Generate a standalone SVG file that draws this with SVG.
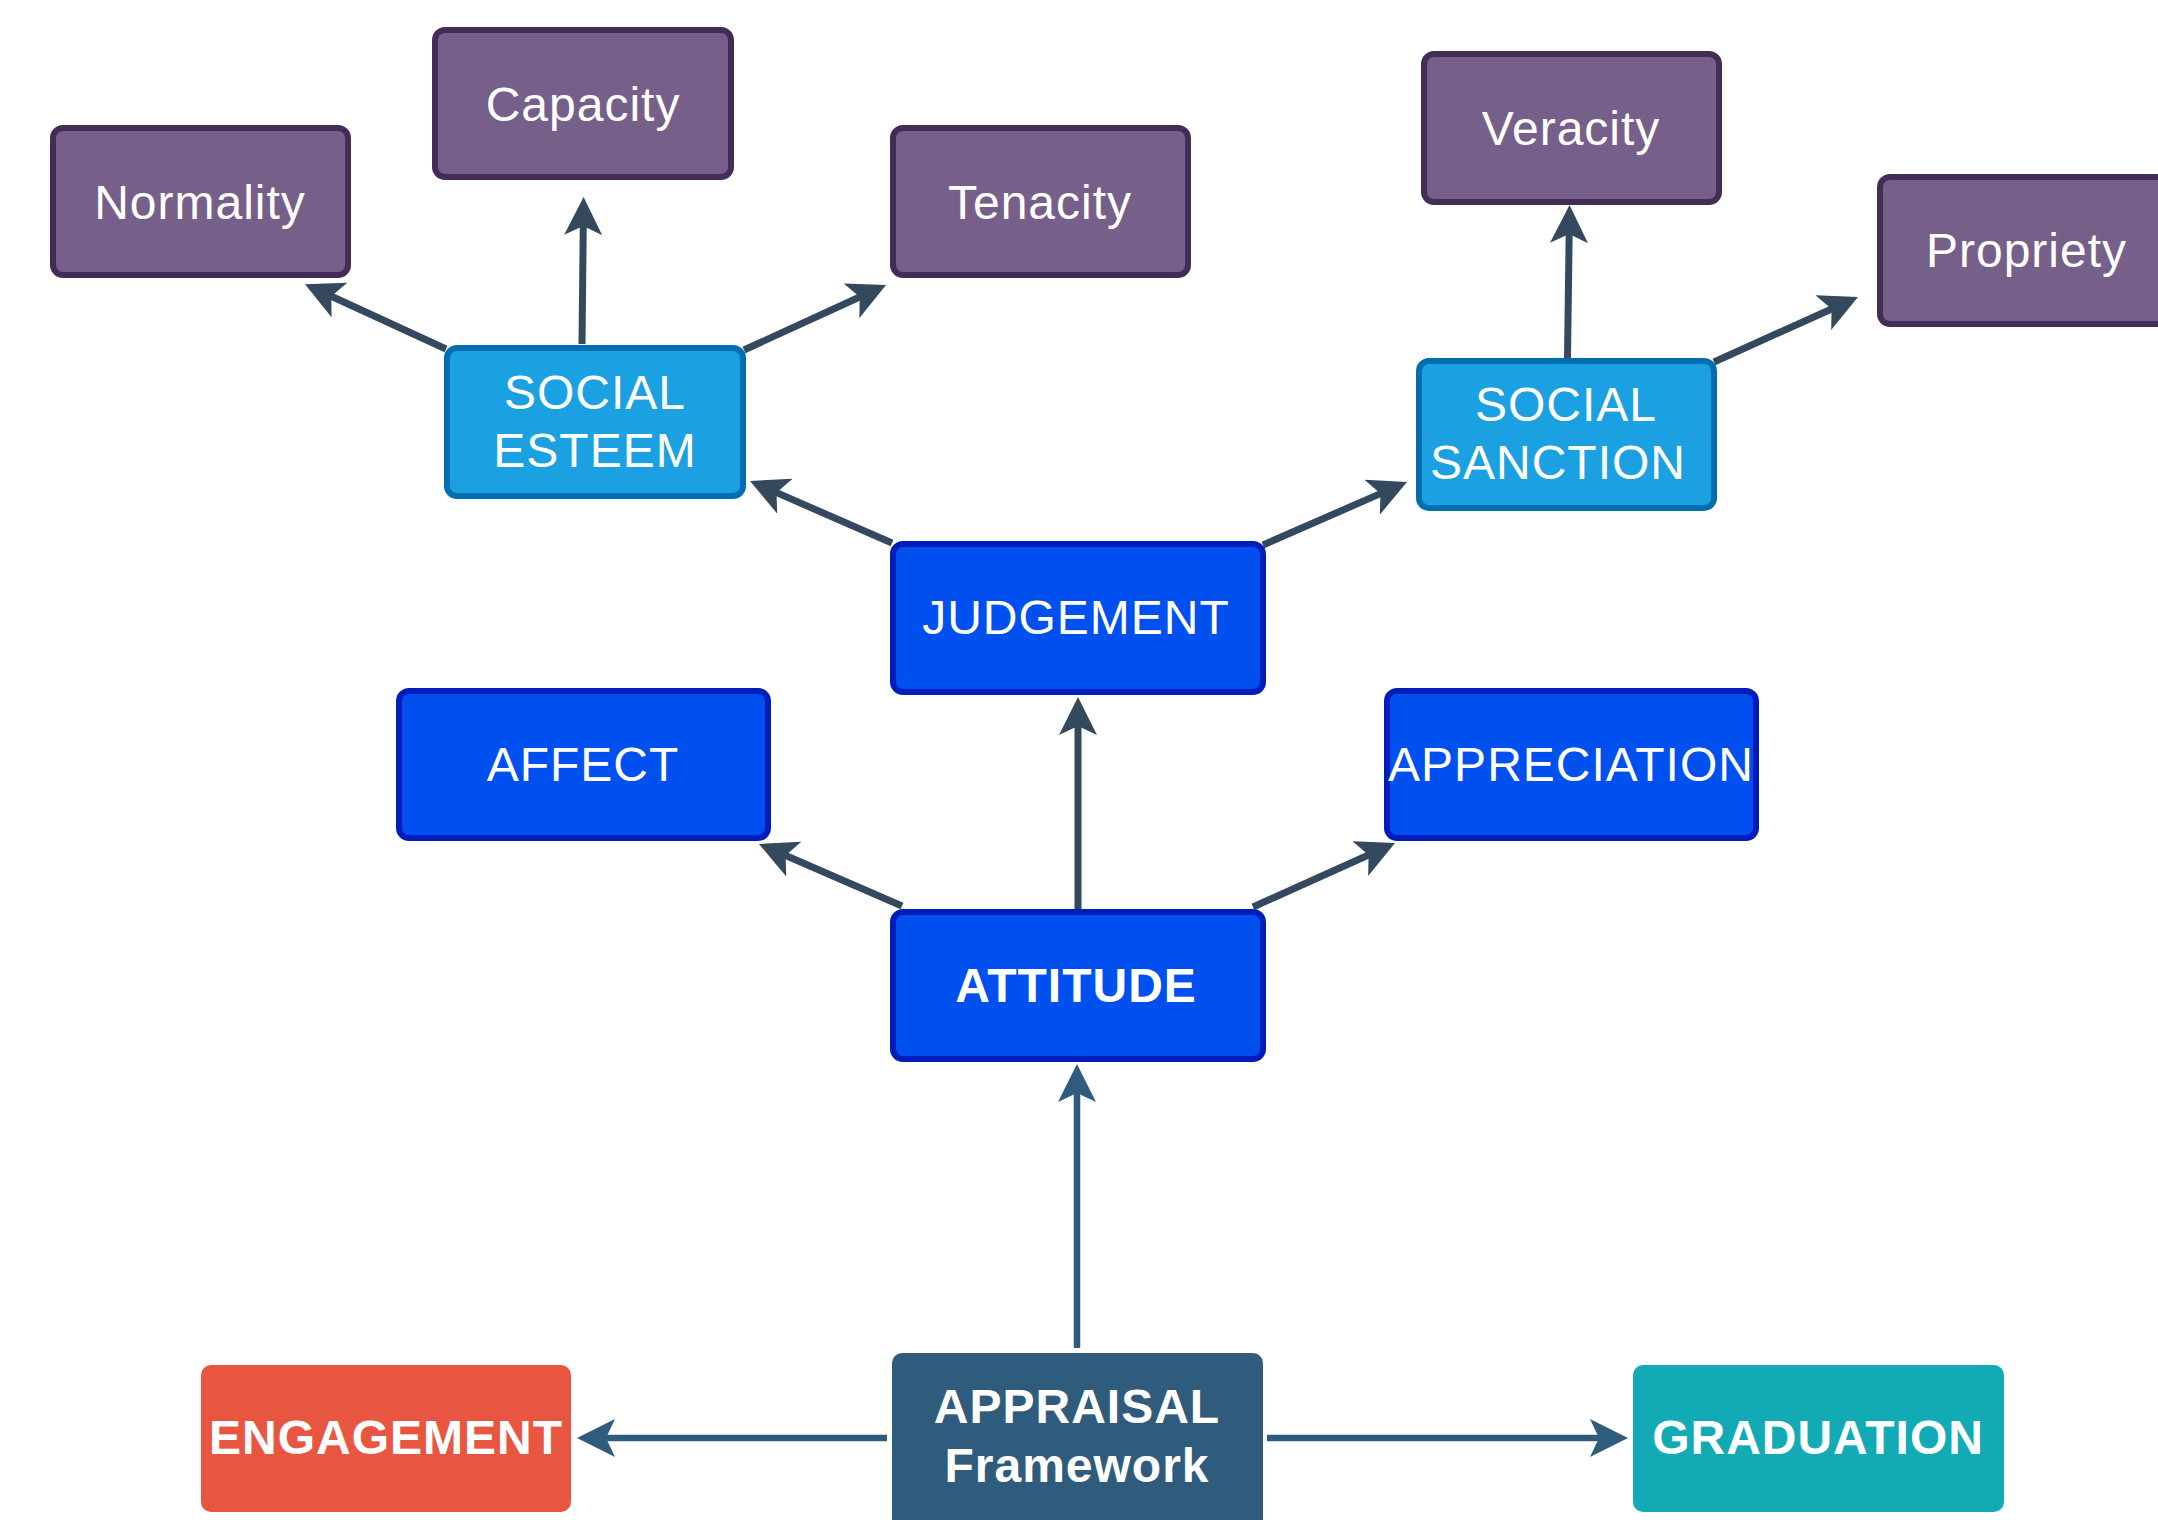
<svg xmlns="http://www.w3.org/2000/svg" width="2158" height="1520" viewBox="0 0 2158 1520">
  <style>
    .lbl { font-family: "Liberation Sans", Arial, Helvetica, sans-serif; font-size: 48px; fill: #ffffff; text-anchor: middle; letter-spacing: 1px; }
    .bold { font-weight: bold; }
    .purple { fill: #76608A; stroke: #432D57; stroke-width: 6; }
    .lblue { fill: #1BA1E2; stroke: #006EAF; stroke-width: 6; }
    .blue { fill: #0050EF; stroke: #001DBC; stroke-width: 6; }
    .eng { fill: #E85642; }
    .grad { fill: #12AAB5; }
    .appr { fill: #2F5B7C; }
    .c-dark { fill: none; stroke: #34495E; stroke-width: 7; marker-end: url(#headDark); }
    .c-blue { fill: none; stroke: #2F5B7C; stroke-width: 6.5; marker-end: url(#headBlue); }
  </style>
  <defs>
    <marker id="headDark" viewBox="0 0 38 38" refX="12" refY="19" markerWidth="38" markerHeight="38" markerUnits="userSpaceOnUse" orient="auto">
      <path d="M0,0 L38,19 L0,38 L9,19 Z" fill="#34495E"/>
    </marker>
    <marker id="headBlue" viewBox="0 0 38 38" refX="12" refY="19" markerWidth="38" markerHeight="38" markerUnits="userSpaceOnUse" orient="auto">
      <path d="M0,0 L38,19 L0,38 L9,19 Z" fill="#2F5B7C"/>
    </marker>
  </defs>
  <rect width="2158" height="1520" fill="#ffffff"/>

  <g id="connectors">
    <line class="c-blue" x1="1077" y1="1348" x2="1077" y2="1090"/>
    <line class="c-blue" x1="887" y1="1438" x2="603" y2="1438"/>
    <line class="c-blue" x1="1267" y1="1438" x2="1602" y2="1438"/>
    <line class="c-dark" x1="1078" y1="909" x2="1078" y2="723"/>
    <line class="c-dark" x1="902" y1="906" x2="782.8" y2="854.3"/>
    <line class="c-dark" x1="1253" y1="907" x2="1371.3" y2="853.7"/>
    <line class="c-dark" x1="892" y1="543" x2="773.8" y2="491.4"/>
    <line class="c-dark" x1="1263" y1="545" x2="1383.2" y2="492.4"/>
    <line class="c-dark" x1="446" y1="349" x2="328.6" y2="295"/>
    <line class="c-dark" x1="582" y1="344" x2="583.3" y2="223"/>
    <line class="c-dark" x1="744" y1="350" x2="862.4" y2="295.8"/>
    <line class="c-dark" x1="1567.5" y1="358" x2="1569.2" y2="231"/>
    <line class="c-dark" x1="1714" y1="362" x2="1834.3" y2="307.7"/>
  </g>

  <g id="normality">
    <rect class="purple" x="53" y="128" width="295" height="147" rx="10"/>
    <text class="lbl" x="200" y="219">Normality</text>
  </g>
  <g id="capacity">
    <rect class="purple" x="435" y="30" width="296" height="147" rx="10"/>
    <text class="lbl" x="583" y="121">Capacity</text>
  </g>
  <g id="tenacity">
    <rect class="purple" x="893" y="128" width="295" height="147" rx="10"/>
    <text class="lbl" x="1040" y="219">Tenacity</text>
  </g>
  <g id="veracity">
    <rect class="purple" x="1424" y="54" width="295" height="148" rx="10"/>
    <text class="lbl" x="1571" y="145">Veracity</text>
  </g>
  <g id="propriety">
    <rect class="purple" x="1880" y="177" width="295" height="147" rx="10"/>
    <text class="lbl" x="2026.5" y="267">Propriety</text>
  </g>
  <g id="social-esteem">
    <rect class="lblue" x="447" y="348" width="296" height="148" rx="10"/>
    <text class="lbl" x="595" y="409">SOCIAL</text>
    <text class="lbl" x="595" y="467">ESTEEM</text>
  </g>
  <g id="social-sanction">
    <rect class="lblue" x="1419" y="361" width="295" height="147" rx="10"/>
    <text class="lbl" x="1566" y="421">SOCIAL</text>
    <text class="lbl" x="1558" y="479">SANCTION</text>
  </g>
  <g id="judgement">
    <rect class="blue" x="893" y="544" width="370" height="148" rx="10"/>
    <text class="lbl" x="1076" y="634">JUDGEMENT</text>
  </g>
  <g id="affect">
    <rect class="blue" x="399" y="691" width="369" height="147" rx="10"/>
    <text class="lbl" x="583" y="781">AFFECT</text>
  </g>
  <g id="appreciation">
    <rect class="blue" x="1387" y="691" width="369" height="147" rx="10"/>
    <text class="lbl" x="1571" y="781">APPRECIATION</text>
  </g>
  <g id="attitude">
    <rect class="blue" x="893" y="912" width="370" height="147" rx="10"/>
    <text class="lbl bold" x="1076" y="1002">ATTITUDE</text>
  </g>
  <g id="engagement">
    <rect class="eng" x="201" y="1365" width="370" height="147" rx="10"/>
    <text class="lbl bold" x="386" y="1454">ENGAGEMENT</text>
  </g>
  <g id="appraisal">
    <rect class="appr" x="892" y="1353" width="371" height="200" rx="10"/>
    <text class="lbl bold" x="1077" y="1423">APPRAISAL</text>
    <text class="lbl bold" x="1077" y="1482">Framework</text>
  </g>
  <g id="graduation">
    <rect class="grad" x="1633" y="1365" width="371" height="147" rx="10"/>
    <text class="lbl bold" x="1818" y="1454">GRADUATION</text>
  </g>
</svg>
